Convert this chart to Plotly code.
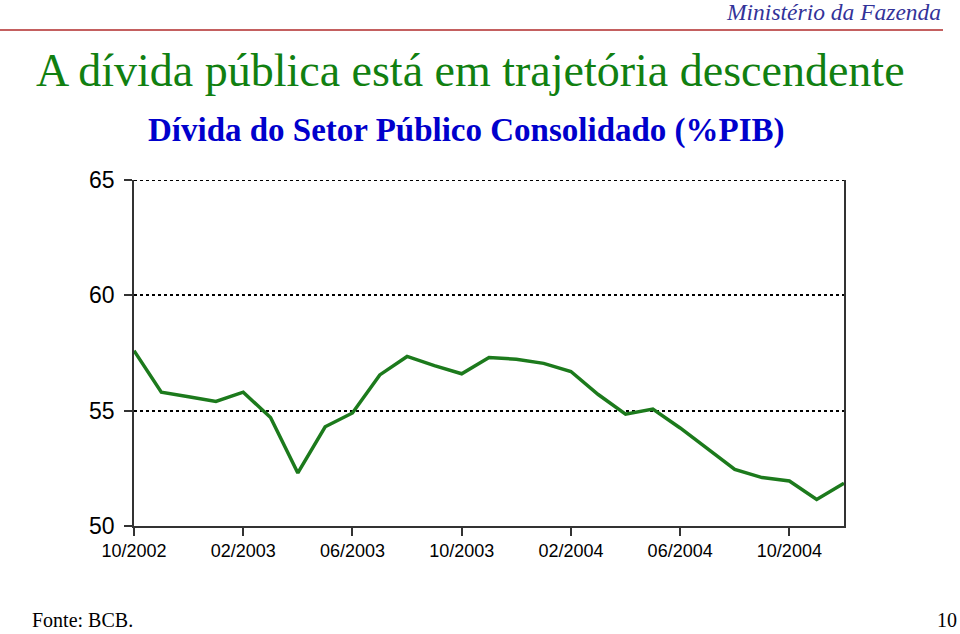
import plotly.graph_objects as go

months = ["10/2002", "11/2002", "12/2002", "01/2003", "02/2003", "03/2003", "04/2003",
          "05/2003", "06/2003", "07/2003", "08/2003", "09/2003", "10/2003", "11/2003",
          "12/2003", "01/2004", "02/2004", "03/2004", "04/2004", "05/2004", "06/2004",
          "07/2004", "08/2004", "09/2004", "10/2004", "11/2004", "12/2004"]
debt_pct_gdp = [57.6, 55.8, 55.6, 55.4, 55.8, 54.7, 52.3, 54.3, 54.9, 56.55, 57.35, 56.95,
                56.6, 57.3, 57.23, 57.05, 56.7, 55.7, 54.85, 55.07, 54.25, 53.35, 52.45,
                52.1, 51.95, 51.15, 51.85]
x_ticks = ["10/2002", "02/2003", "06/2003", "10/2003", "02/2004", "06/2004", "10/2004"]
y_ticks = [50, 55, 60, 65]

fig = go.Figure()
fig.add_trace(go.Scatter(x=months, y=debt_pct_gdp, mode="lines",
                         line=dict(color="#1c7a1c", width=3.5), hoverinfo="skip"))

fig.update_layout(
    width=960, height=634,
    margin=dict(l=134, r=116, t=180, b=108),
    paper_bgcolor="white", plot_bgcolor="white",
    showlegend=False,
    xaxis=dict(type="category", categoryorder="array", categoryarray=months,
               range=[0, len(months) - 1], tickvals=x_ticks, ticktext=x_ticks,
               showgrid=False, showline=True, linecolor="#333333", linewidth=1.5,
               ticks="outside", ticklen=8, tickwidth=1.5, tickcolor="#333333",
               tickfont=dict(family="Liberation Sans, Arial", size=18, color="black"),
               zeroline=False),
    yaxis=dict(range=[50, 65], tickvals=y_ticks,
               showgrid=True, gridcolor="black", gridwidth=2, griddash="dot",
               showline=True, mirror=True, linecolor="#333333", linewidth=1.5,
               ticks="outside", ticklen=8, tickwidth=1.5, tickcolor="#333333",
               ticklabelstandoff=5,
               tickfont=dict(family="Liberation Sans, Arial", size=23, color="black"),
               zeroline=False),
    shapes=[
        dict(type="line", xref="paper", yref="paper", x0=-134/710, x1=809/710,
             y0=1 + 150/346, y1=1 + 150/346,
             line=dict(color="#c46060", width=2)),
        # top gridline (plotly hides gridlines at the range edge)
        dict(type="line", xref="paper", yref="y", x0=0, x1=1,
             y0=y_ticks[-1], y1=y_ticks[-1],
             line=dict(color="black", width=2, dash="dot")),
    ],
    annotations=[
        dict(text="<i>Ministério da Fazenda</i>", xref="paper", yref="paper",
             x=809/710, y=1 + 168/346, xanchor="right", yanchor="middle", showarrow=False,
             font=dict(family="Liberation Serif", size=23.5, color="#333399")),
        dict(text="A dívida pública está em trajetória descendente", xref="paper", yref="paper",
             x=-100/710, y=1 + 110/346, xanchor="left", yanchor="middle", showarrow=False,
             font=dict(family="Liberation Serif", size=46, color="#118011")),
        dict(text="<b>Dívida do Setor Público Consolidado (%PIB)</b>", xref="paper", yref="paper",
             x=(466 - 134)/710, y=1 + 50/346, xanchor="center", yanchor="middle", showarrow=False,
             font=dict(family="Liberation Serif", size=33, color="#0000cc")),
        dict(text="Fonte: BCB.", xref="paper", yref="paper",
             x=-104/710, y=-107/346, xanchor="left", yanchor="bottom", showarrow=False,
             font=dict(family="Liberation Serif", size=20, color="black")),
        dict(text="10", xref="paper", yref="paper",
             x=825/710, y=-107/346, xanchor="right", yanchor="bottom", showarrow=False,
             font=dict(family="Liberation Serif", size=20, color="black")),
    ],
)

fig.write_html("out.html")
